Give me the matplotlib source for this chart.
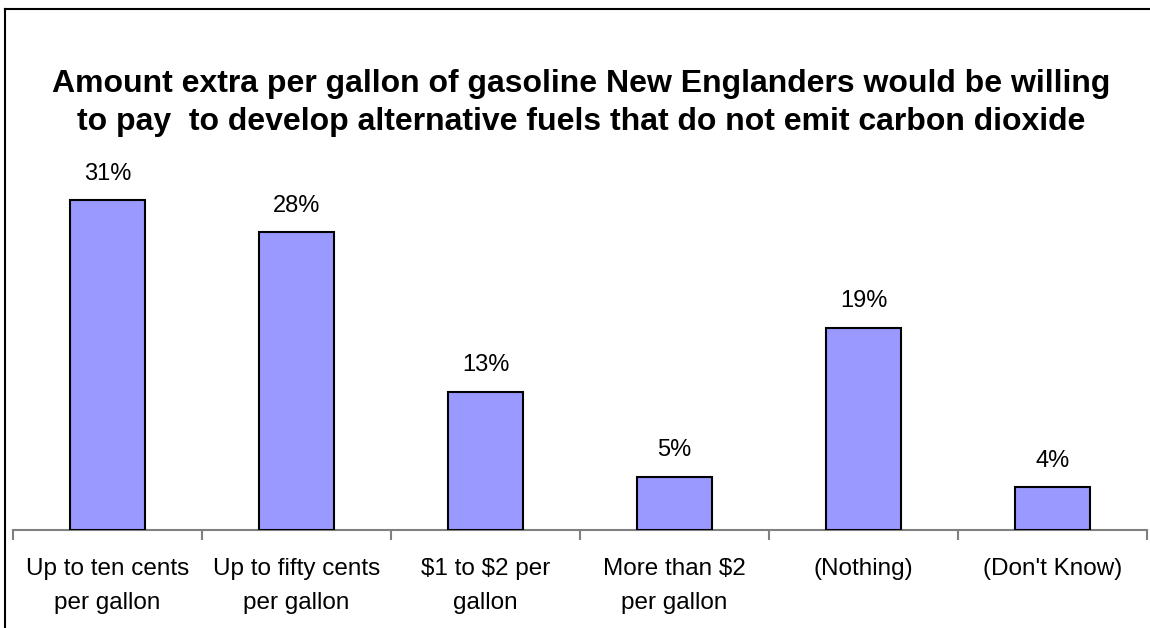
import matplotlib.pyplot as plt
from matplotlib.lines import Line2D

plt.rcParams['font.family'] = ['Liberation Sans', 'DejaVu Sans']

# Data
categories = ['Up to ten cents\nper gallon', 'Up to fifty cents\nper gallon',
              '\\$1 to \\$2 per\ngallon', 'More than \\$2\nper gallon',
              '(Nothing)', "(Don't Know)"]
values = [31, 28, 13, 5, 19, 4]
value_labels = ['31%', '28%', '13%', '5%', '19%', '4%']

W, H = 1150, 628
fig = plt.figure(figsize=(W / 100, H / 100), dpi=100)

# Outer border (only left and top edges visible in the original)
fig.add_artist(Line2D([5 / W, 5 / W], [0, 1 - 9 / H], transform=fig.transFigure,
                      color='black', linewidth=1.5))
fig.add_artist(Line2D([5 / W, 1], [1 - 9 / H, 1 - 9 / H], transform=fig.transFigure,
                      color='black', linewidth=1.5))

ax = fig.add_axes([13 / W, 1 - 530 / H, 1134 / W, 380 / H])
x = list(range(len(categories)))
ax.bar(x, values, width=0.4, color='#9999FF', edgecolor='black', linewidth=1.5, zorder=3)

for xi, v, lab in zip(x, values, value_labels):
    ax.annotate(lab, (xi, v), xytext=(0, 11), textcoords='offset points',
                ha='center', va='bottom', fontsize=17)

ax.set_xlim(-0.5, 5.5)
ax.set_ylim(0, 380 / 10.65)

for s in ['top', 'right', 'left']:
    ax.spines[s].set_visible(False)
ax.spines['bottom'].set_color('#808080')
ax.spines['bottom'].set_linewidth(1.5)
ax.set_yticks([])

ax.set_xticks(x)
ax.set_xticklabels(categories, fontsize=17.5, linespacing=1.7)
ax.set_xticks([i - 0.5 for i in range(len(categories) + 1)], minor=True)
ax.tick_params(axis='x', which='major', length=0, pad=20)
ax.tick_params(axis='x', which='minor', length=7, width=1.5, color='#808080', direction='out')

fig.text(581 / W, 1 - 103 / H,
         'Amount extra per gallon of gasoline New Englanders would be willing\n'
         'to pay  to develop alternative fuels that do not emit carbon dioxide',
         ha='center', va='center', fontsize=23, fontweight='bold', linespacing=1.33)

fig.savefig('out.png', dpi=100)
